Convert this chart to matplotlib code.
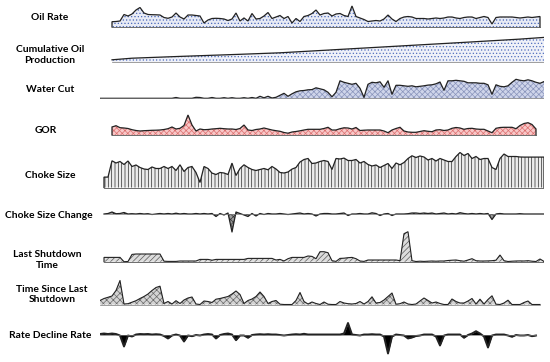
import numpy as np
import matplotlib
matplotlib.use("Agg")
import matplotlib.pyplot as plt

plt.rcParams["hatch.linewidth"] = 0.5

# ---- data (one sample every time step, series start at different steps) ----
oil_rate_start = 3
oil_rate = [5.3, 5.5, 6, 12.5, 11, 13, 17, 19.5, 14, 12.5,
            12.3, 12.2, 12, 9.5, 8.7, 10, 14, 10, 8, 12,
            12, 11.5, 11, 4, 7, 8.5, 8.7, 8.5, 8, 6.5,
            8, 14, 6, 9, 6, 13.5, 8, 8.5, 11, 14.5,
            8.5, 10, 11.5, 8.5, 10.5, 4, 8.5, 5.5, 10.5, 11.5,
            13.5, 17, 12, 13.5, 14, 11, 13, 13.5, 11.5, 10.5,
            21, 10.5, 9, 7.5, 5.5, 6, 6.5, 6, 8, 12,
            8, 5.5, 8.5, 10, 10.5, 10, 8.5, 8.5, 8.5, 8,
            8.5, 9, 8.5, 9, 10, 10, 9, 8.5, 9.5, 10,
            10, 8.5, 9.5, 10.5, 9.5, 3, 9.5, 10, 10, 10,
            10, 9.5, 9, 9.5, 10, 9.5, 10, 10.5]

cum_oil_days = [3, 8, 20, 35, 45, 60, 75, 90, 105, 111]
cum_oil = [2.2, 3.8, 5.6, 7.7, 9.2, 12.6, 16.0, 19.4, 22.9, 24.6]

water_cut_start = 0
water_cut = [0, 0, 0, 0, 0, 0, 0, 0, 0, 0,
             0, 0, 0, 0, 0, 0, 0, 0, 0, 0.8,
             0, 0, 0, 0, 1, 0.8, 0, 0, 0.8, 0,
             0, 0.6, 0, 0.6, 0, 0, 0.6, 0, 0.8, 0,
             2, 0.5, 2, 0.3, 1, 3, 5, 2, 4.5, 6.5,
             7.5, 7.8, 8.5, 8.7, 10.5, 9.5, 8.5, 6, 1.5, 6,
             17.5, 16, 15, 14, 15, 10, 1, 14, 16, 15.5,
             16.5, 11, 17.5, 4, 13, 13, 12.5, 12, 12.5, 11.5,
             12, 12.5, 13.2, 13.5, 14.5, 16.3, 8, 17.5, 17.5, 18,
             17.5, 17, 15.5, 15.5, 15.5, 15, 15, 13.5, 4, 13.5,
             12, 11.5, 12.5, 16, 19, 18, 17.5, 18.5, 17.5, 16,
             15, 16.7]

gor_start = 3
gor = [8, 9.3, 7.3, 7, 6.5, 5.3, 4.5, 4, 4.3, 4.5,
       4.7, 4.8, 5, 5.5, 6.3, 8, 6, 6.7, 9.5, 20,
       10, 4, 6, 5.3, 5.5, 6, 6.3, 6.7, 6.3, 6,
       6, 5.5, 6.5, 10, 5, 4.5, 5.5, 6, 7, 6,
       5, 4.3, 3.7, 2.5, 1.8, 3, 3.5, 4.2, 5, 5.7,
       5.7, 5.7, 5.7, 6.5, 7.7, 5, 5, 6.3, 7.2, 7,
       6, 7.5, 4.5, 4.8, 5, 5, 5, 5, 4, 2.3,
       5, 6.5, 7.7, 4, 3, 2.7, 2.7, 3.5, 4.3, 3.7,
       3.3, 5, 5.3, 4.5, 5, 6.7, 7.5, 7, 5.7, 6.5,
       6.7, 6, 5.7, 5.7, 4, 2.3, 6.7, 7.5, 7.7, 7.7,
       7.7, 6.3, 9.5, 11.5, 12.3, 10.5, 6]

choke_start = 1
choke = [10.4, 10.4, 26.7, 24.5, 26, 23, 26.5, 21, 22.5, 20,
         18.5, 18, 20.5, 19, 19, 21, 19, 21, 17, 22.7,
         16, 20, 21, 15, 5, 21, 19, 14.4, 13, 15,
         14.5, 13, 24.4, 12, 19, 22.7, 20, 18, 17, 18,
         19, 17.7, 21, 18.5, 15, 14.5, 15.5, 18.4, 20, 25.5,
         28, 29, 24, 24.5, 26, 27, 26, 18, 29, 28.5,
         29.4, 27, 27, 28, 24.5, 26, 23, 21.5, 22.5, 20,
         22, 24, 19, 24.5, 22.7, 25, 29, 31.7, 30, 31.5,
         30.5, 27.5, 29, 26.5, 29, 27.5, 26, 26, 31, 35,
         32, 34, 29, 31, 28, 29, 29, 20, 18, 29,
         33.5, 31, 31, 31, 30.5, 30.4, 30.4, 30.4, 30.4, 30.4,
         30.4]

choke_change_start = 1
choke_change = [0, 0.5, 2, 0.3, 0.5, 1.5, 0, 0.3, 0, 0.5,
                0, 0.3, -0.5, 0, 0.5, 0, 0.5, 0, 0.8, 0,
                0.5, 0, 0, 0.5, 0, 0.5, 0, 0.5, -2.5, 0.5,
                -1, 1, -18, 2, 0.5, -1, -2.5, 0.5, -2, 0.5,
                -0.5, 0.5, 0, 0, 0.5, 0, -0.5, 0, 0.5, 1,
                0, 0.5, 0, -2, 0, 0.5, 0.5, 0, 0, 0.5,
                1, -1.5, 0, 0, 0.5, 0, 0, 1.2, 0.5, -1.5,
                0, 0.5, -1.5, 0, 0, 0, 0.3, 1, 1, 0.5,
                1, 0.5, 1, 0, 0.5, 1, 0, 0.5, 0, 1.3,
                0.5, 0, 0.5, 0, 0.5, 0, 0.5, -5.5, 0, 0.5,
                0, 0, 0, 0, 0.3, 0, 0, 0, 0, 0,
                0]

last_shutdown_start = 1
last_shutdown = [4.3, 4.3, 4.3, 4.3, 4.3, 0, 0.2, 7.3, 7.7, 7.7,
                 7.7, 7.7, 7.7, 7.7, 7.7, 0.5, 0.3, 0.3, 0.3, 0.7,
                 0.7, 0.7, 0.7, 0.7, 2.3, 2.3, 2.3, 1.5, 2.3, 2.3,
                 2.3, 2.3, 2.3, 2.3, 2.3, 2.3, 3.3, 3.3, 3.3, 3.3,
                 3.3, 3.3, 3.3, 1.7, 2.3, 0.7, 3, 4.3, 4.3, 4.3,
                 4.3, 5.7, 5.3, 3, 10, 10, 9, 1, 0.3, 3.3,
                 3.5, 4, 4.3, 3, 0.7, 0.3, 1.7, 1.7, 1.7, 1.7,
                 1.7, 1.7, 1.7, 1.7, 1, 28, 30, 1, 0.2, 0.5,
                 0.3, 0.5, 0.7, 0.5, 0.7, 0.7, 1.2, 1.5, 1.7, 1,
                 0.5, 1.7, 3, 1, 0.7, 0.7, 0.8, 1, 1.5, 6.7,
                 1, 0.2, 0.5, 0.7, 0.8, 0.7, 1, 0.5, 0.2, 2.7,
                 0.3]

time_since_start = 0
time_since = [4, 6, 7.2, 8.5, 14, 24, 0.5, 0.8, 2.3, 3.8,
              6, 8, 10.5, 14, 17, 18.3, 1, 3, 0.5, 3.8,
              1, 4.5, 6.5, 7.5, 0.5, 0, 3.5, 3, 2, 5.3,
              6, 7, 8, 10.5, 13.5, 10, 1, 4, 5.5, 8,
              12.5, 8, 1, 3, 4, 0.3, 0, 0, 0, 4,
              12, 3, 0.5, 2.5, 1, 0, 2.5, 0.3, 0, 0,
              3, 1.5, 0.8, 0.5, 1, 3, 0.5, 3, 7.7, 1.5,
              2, 4.5, 8, 11.5, 0.3, 0.8, 2.5, 0.5, 0, 0.5,
              3.5, 6.5, 4, 1.5, 2.5, 1, 0, 0, 5.5, 3,
              1.5, 1.5, 3.5, 6, 0.5, 5.3, 0.5, 5, 8.7, 0.3,
              0, 1.5, 4.3, 0, 0, 0, 2, 3.5, 0, 0,
              0]

decline_start = 0
decline_rate = [0.5, 1, 0.5, 1, 0.5, -1, -12, -1, -2, 0,
                0.5, 0.3, 0.5, 0, 0.3, 0, -1.5, -4, -1, 0,
                -1, -7, -1, -1.7, -0.5, -1, 0, 0.5, 0, -4,
                -0.5, 0.5, 1, 0, -5.7, -1, -1, -3.3, -0.5, 0,
                0.3, 0, 0.3, 0, 0, -0.5, -1, -0.5, 0, 0.3,
                0, 0.7, 0, 0, 0, 0, 0, 0, 0, 0,
                0, 1, 11.5, 0, -0.5, -1, 0, 0, 0.3, 0,
                0, -2, -19, -2, 0, -0.5, -1, -4, -3, -1.5,
                -1, 0, 0, 0, -2, -11, -1, 0, 0, 0,
                0, -3.3, -0.5, 1, 3.3, 1, -2, -13, -1, 0,
                0, 0, -1, -2.3, -0.5, -1, -1, -0.5, -1.7, -1]

labels = ["Oil Rate", "Cumulative Oil\nProduction", "Water Cut", "GOR",
          "Choke Size", "Choke Size Change", "Last Shutdown\nTime",
          "Time Since Last\nShutdown", "Rate Decline Rate"]


def steps(start, vals):
    return start + np.arange(len(vals))


series = [
    (steps(oil_rate_start, oil_rate), oil_rate),
    (np.array(cum_oil_days), cum_oil),
    (steps(water_cut_start, water_cut), water_cut),
    (steps(gor_start, gor), gor),
    (steps(choke_start, choke), choke),
    (steps(choke_change_start, choke_change), choke_change),
    (steps(last_shutdown_start, last_shutdown), last_shutdown),
    (steps(time_since_start, time_since), time_since),
    (steps(decline_start, decline_rate), decline_rate),
]

# ---- layout / style per row: baseline (px from top), label centre, look ----
W, H = 550, 362
rows = [
    dict(base=27, lab=(50, 18), fc="#e8ebf5", hc="#4a68bb", hatch=".....", lw=0.9, close=True),
    dict(base=62, lab=(50, 55), fc="#eff1f8", hc="#5270c0", hatch=".....", lw=0.9, close=False),
    dict(base=98.3, lab=(50, 89), fc="#cfd5ea", hc="#8893bb", hatch="xxxxxx", lw=0.9, close=False),
    dict(base=135, lab=(46, 130), fc="#f8c8c8", hc="#dc7070", hatch="xxxxxx", lw=0.9, close=True),
    dict(base=187.5, lab=(50, 176), fc="#ececec", hc="#2b2b2b", hatch="|||||", lw=0.9, close=True),
    dict(base=214, lab=(49, 216), fc="#9a9a9a", hc="#333333", hatch="xxxxxx", lw=0.9, close=False),
    dict(base=261.7, lab=(47, 260), fc="#dcdcdc", hc="#5a5a5a", hatch="//////", lw=0.8, close=True),
    dict(base=304.5, lab=(52, 294.5), fc="#d3d3d3", hc="#6a6a6a", hatch="xxxxx", lw=0.8, close=False),
    dict(base=334.5, lab=(50, 335), fc="black", hc="black", hatch=None, lw=1.4, close=False),
]

fig = plt.figure(figsize=(W / 100, H / 100), dpi=100)

x0_px, x1_px = 100, 544
for (x, v), label, st in zip(series, labels, rows):
    v = np.asarray(v, dtype=float)
    b = st["base"]
    ax = fig.add_axes([x0_px / W, 1 - (b + 25) / H, (x1_px - x0_px) / W, 70 / H])
    ax.set_xlim(0, 111)
    ax.set_ylim(-25, 45)
    ax.axis("off")
    ax.patch.set_alpha(0)

    ax.fill_between(x, 0, v, facecolor=st["fc"], edgecolor=st["hc"],
                    hatch=st["hatch"], linewidth=0)
    if st["close"]:
        ax.plot(np.r_[x[0], x, x[-1]], np.r_[0, v, 0], color="#222222",
                lw=st["lw"], solid_joinstyle="miter")
        ax.plot([x[0], x[-1]], [0, 0], color="#555555", lw=0.6)
    else:
        ax.plot(x, v, color="#222222", lw=st["lw"])
        ax.plot([x[0], x[-1]], [0, 0], color="#777777", lw=0.5)

    fig.text(st["lab"][0] / W, 1 - st["lab"][1] / H, label, ha="center",
             va="center", fontsize=7.4, fontweight="bold", family="Lato",
             linespacing=1.15)

fig.savefig("out.png", dpi=100)
